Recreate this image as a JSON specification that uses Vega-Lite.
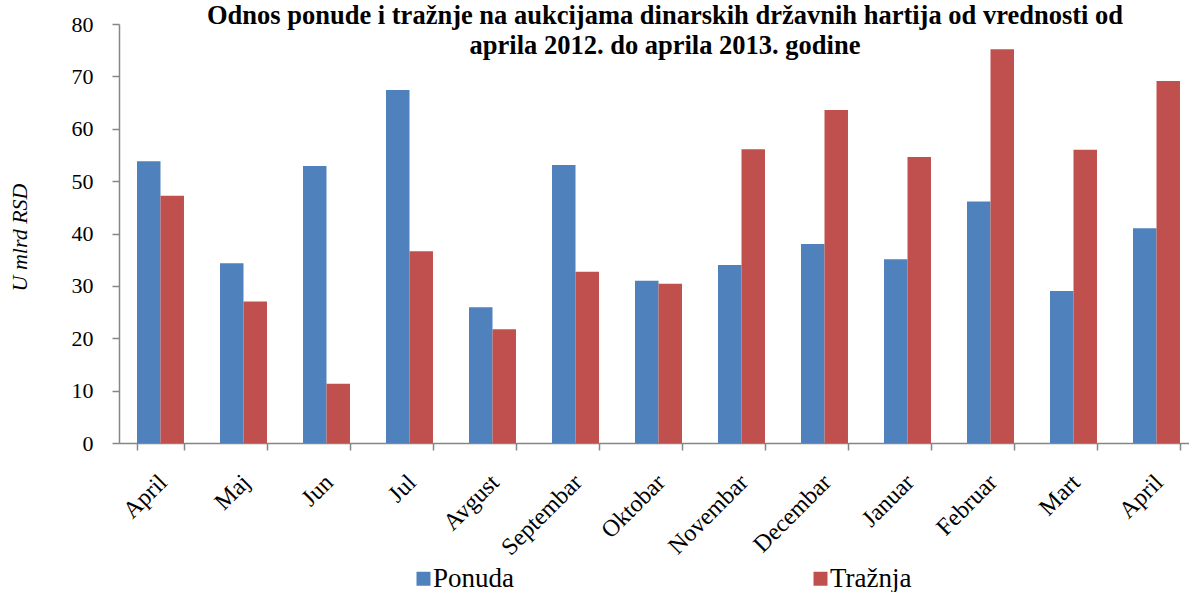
{
  "$schema": "https://vega.github.io/schema/vega-lite/v6.json",
  "width": 1070,
  "height": 419,
  "autosize": {"type": "none"},
  "padding": {"left": 119, "top": 24, "right": 0, "bottom": 149},
  "background": "#ffffff",
  "title": {
    "text": ["Odnos ponude i tražnje na aukcijama dinarskih državnih hartija od vrednosti od", "aprila 2012. do aprila 2013. godine"],
    "font": "Liberation Serif",
    "fontSize": 26.5,
    "fontWeight": "bold",
    "color": "#000000",
    "lineHeight": 30,
    "anchor": "middle",
    "frame": "group",
    "offset": -46,
    "dx": 11
  },
  "data": {
    "values": [
      {"i": 0, "mesec": "April", "serija": "Ponuda", "vrednost": 53.8},
      {"i": 0, "mesec": "April", "serija": "Tražnja", "vrednost": 47.2},
      {"i": 1, "mesec": "Maj", "serija": "Ponuda", "vrednost": 34.3},
      {"i": 1, "mesec": "Maj", "serija": "Tražnja", "vrednost": 27.0},
      {"i": 2, "mesec": "Jun", "serija": "Ponuda", "vrednost": 52.9},
      {"i": 2, "mesec": "Jun", "serija": "Tražnja", "vrednost": 11.3},
      {"i": 3, "mesec": "Jul", "serija": "Ponuda", "vrednost": 67.4},
      {"i": 3, "mesec": "Jul", "serija": "Tražnja", "vrednost": 36.6},
      {"i": 4, "mesec": "Avgust", "serija": "Ponuda", "vrednost": 25.9},
      {"i": 4, "mesec": "Avgust", "serija": "Tražnja", "vrednost": 21.7},
      {"i": 5, "mesec": "Septembar", "serija": "Ponuda", "vrednost": 53.1},
      {"i": 5, "mesec": "Septembar", "serija": "Tražnja", "vrednost": 32.7},
      {"i": 6, "mesec": "Oktobar", "serija": "Ponuda", "vrednost": 31.0},
      {"i": 6, "mesec": "Oktobar", "serija": "Tražnja", "vrednost": 30.4},
      {"i": 7, "mesec": "Novembar", "serija": "Ponuda", "vrednost": 34.0},
      {"i": 7, "mesec": "Novembar", "serija": "Tražnja", "vrednost": 56.1},
      {"i": 8, "mesec": "Decembar", "serija": "Ponuda", "vrednost": 38.0},
      {"i": 8, "mesec": "Decembar", "serija": "Tražnja", "vrednost": 63.6},
      {"i": 9, "mesec": "Januar", "serija": "Ponuda", "vrednost": 35.1},
      {"i": 9, "mesec": "Januar", "serija": "Tražnja", "vrednost": 54.6},
      {"i": 10, "mesec": "Februar", "serija": "Ponuda", "vrednost": 46.1},
      {"i": 10, "mesec": "Februar", "serija": "Tražnja", "vrednost": 75.2},
      {"i": 11, "mesec": "Mart", "serija": "Ponuda", "vrednost": 29.0},
      {"i": 11, "mesec": "Mart", "serija": "Tražnja", "vrednost": 56.0},
      {"i": 12, "mesec": "April", "serija": "Ponuda", "vrednost": 41.0},
      {"i": 12, "mesec": "April", "serija": "Tražnja", "vrednost": 69.1}
    ]
  },
  "mark": {"type": "bar"},
  "encoding": {
    "x": {
      "field": "i",
      "type": "ordinal",
      "scale": {"type": "band", "paddingInner": 0.434, "paddingOuter": 0.217, "range": [0, 1079]},
      "axis": {
        "title": null,
        "labelExpr": "['April','Maj','Jun','Jul','Avgust','Septembar','Oktobar','Novembar','Decembar','Januar','Februar','Mart','April'][datum.value]",
        "labelAngle": -45,
        "labelAlign": "right",
        "labelBaseline": "top",
        "labelFont": "Liberation Serif",
        "labelFontSize": 24,
        "labelColor": "#000000",
        "labelPadding": 20,
        "labelOffset": -6,
        "tickBand": "extent",
        "tickSize": 7,
        "tickColor": "#868686",
        "tickWidth": 1.5,
        "domainColor": "#868686",
        "domainWidth": 1.5,
        "grid": false
      }
    },
    "xOffset": {"field": "serija", "type": "nominal", "sort": ["Ponuda", "Tražnja"]},
    "y": {
      "field": "vrednost",
      "type": "quantitative",
      "scale": {"domain": [0, 80], "nice": false},
      "axis": {
        "values": [0, 10, 20, 30, 40, 50, 60, 70, 80],
        "title": "U mlrd RSD",
        "titleFont": "Liberation Serif",
        "titleFontSize": 22,
        "titleFontStyle": "italic",
        "titleFontWeight": "normal",
        "titleColor": "#000000",
        "titleAngle": -90,
        "titleX": -100,
        "titleY": 213,
        "titleAlign": "center",
        "titleBaseline": "middle",
        "labelFont": "Liberation Serif",
        "labelFontSize": 22,
        "labelColor": "#000000",
        "labelPadding": 19,
        "tickSize": 7,
        "tickColor": "#868686",
        "tickWidth": 1.5,
        "domainColor": "#868686",
        "domainWidth": 1.5,
        "grid": false
      }
    },
    "color": {
      "field": "serija",
      "type": "nominal",
      "scale": {"domain": ["Ponuda", "Tražnja"], "range": ["#4F81BD", "#C0504D"]},
      "legend": {
        "title": null,
        "orient": "none",
        "direction": "horizontal",
        "legendX": 291,
        "legendY": 541,
        "symbolType": "square",
        "symbolSize": 196,
        "symbolStrokeWidth": 0,
        "labelFont": "Liberation Serif",
        "labelFontSize": 27,
        "labelColor": "#000000",
        "labelOffset": -4,
        "columnPadding": 293
      }
    }
  },
  "config": {
    "view": {"stroke": null}
  }
}
